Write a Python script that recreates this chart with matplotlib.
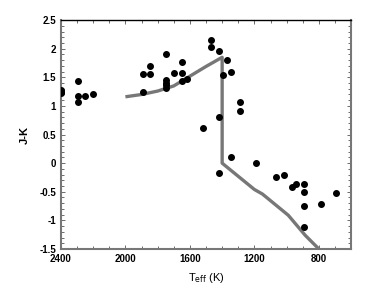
import matplotlib.pyplot as plt
from matplotlib.ticker import MultipleLocator

# observed objects (Teff, J-K)
teff_obs = [2400, 2400, 2400, 2296, 2296, 2296, 2248, 2198,
            1894, 1894, 1846, 1846, 1746, 1746, 1746, 1746, 1746,
            1696, 1646, 1646, 1646, 1621,
            1469, 1469, 1417, 1369, 1394, 1344, 1292, 1292, 1417, 1521,
            1344, 1417, 1192, 1067, 1015, 965, 940,
            890, 890, 890, 890, 790, 692]
jk_obs = [1.28, 1.25, 1.22, 1.44, 1.17, 1.07, 1.18, 1.20,
          1.56, 1.25, 1.69, 1.55, 1.91, 1.45, 1.40, 1.36, 1.32,
          1.57, 1.76, 1.58, 1.44, 1.475,
          2.16, 2.03, 1.96, 1.80, 1.54, 1.60, 1.07, 0.91, 0.81, 0.62,
          0.11, -0.17, 0.00, -0.25, -0.21, -0.41, -0.36,
          -0.37, -0.50, -0.75, -1.11, -0.71, -0.52]

# model track
teff_model = [2000, 1900, 1800, 1700, 1600, 1500, 1400, 1400, 1200, 1150, 990, 885, 800]
jk_model = [1.16, 1.20, 1.26, 1.35, 1.52, 1.69, 1.85, 0.0, -0.46, -0.54, -0.91, -1.26, -1.5]

plt.rcParams['font.family'] = ['Liberation Sans', 'DejaVu Sans']

fig = plt.figure(figsize=(3.88, 3.0), dpi=100)
ax = fig.add_axes([0.157, 0.17, 0.748, 0.763])

ax.plot(teff_model, jk_model, color='#777777', lw=2.4, solid_capstyle='butt')
ax.scatter(teff_obs, jk_obs, s=16, color='black', zorder=3)

ax.set_xlim(2400, 600)
ax.set_ylim(-1.5, 2.5)
ax.set_xticks([2400, 2000, 1600, 1200, 800])
ax.xaxis.set_minor_locator(MultipleLocator(100))
ax.set_yticks([-1.5, -1, -0.5, 0, 0.5, 1, 1.5, 2, 2.5])
ax.set_yticklabels(['-1.5', '-1', '-0.5', '0', '0.5', '1', '1.5', '2', '2.5'])
ax.yaxis.set_minor_locator(MultipleLocator(0.1))
ax.tick_params(which='both', direction='in', top=True, right=True,
               labelsize=7, width=0.6, colors='#555555', labelcolor='black')
ax.tick_params(which='major', length=3)
ax.tick_params(which='minor', length=2)
for lab in ax.get_xticklabels() + ax.get_yticklabels():
    lab.set_fontweight('bold')

for side in ['left', 'bottom', 'right']:
    ax.spines[side].set_color('#777777')
    ax.spines[side].set_linewidth(1.5)
ax.spines['top'].set_color('black')
ax.spines['top'].set_linewidth(1.0)

ax.set_xlabel(r'T$_{\rm eff}$ (K)', fontsize=8, labelpad=5)
ax.set_ylabel('J-K', fontsize=8, labelpad=7, fontweight='bold')

fig.savefig('out.png', dpi=100)
